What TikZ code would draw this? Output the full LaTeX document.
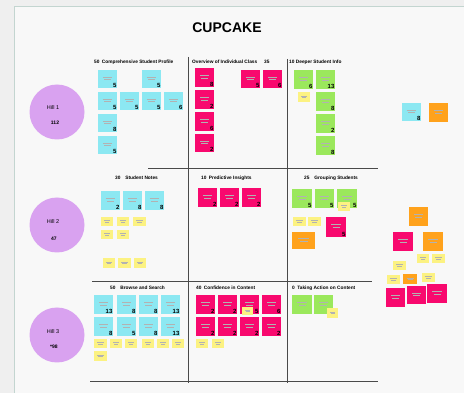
\documentclass[tikz,border=0pt]{standalone}
\usepackage{fontspec}
\setmainfont{Liberation Sans}
\usetikzlibrary{calc}

\definecolor{bgout}{HTML}{EFEFEF}
\definecolor{board}{HTML}{F8F8F8}
\definecolor{boardedge}{HTML}{C3D5D0}
\definecolor{cyannote}{HTML}{8CE8F2}
\definecolor{pinknote}{HTML}{F8096E}
\definecolor{greennote}{HTML}{9BE85C}
\definecolor{yellownote}{HTML}{FCF282}
\definecolor{orangenote}{HTML}{FFA21C}
\definecolor{hill}{HTML}{D9A2F0}
\definecolor{gridline}{HTML}{4A4A4A}

\tikzset{
  note/.style={anchor=north west, inner sep=0pt, draw=none},
  num/.style={anchor=south east, inner sep=0.8pt, font=\fontsize{6}{6}\selectfont\bfseries},
  scrib/.style={draw=black!30, line width=0.25pt},
  header/.style={anchor=west, inner sep=0pt, font=\fontsize{4.8}{5}\selectfont\bfseries},
  gridrule/.style={draw=gridline, line width=0.8pt},
  hillcircle/.style={circle, fill=hill, minimum size=55pt, inner sep=0pt},
  hilllabel/.style={inner sep=0pt, font=\fontsize{5.5}{6}\selectfont},
  hillcount/.style={inner sep=0pt, font=\fontsize{5}{6}\selectfont\bfseries},
}

% sticky note: name, colour, x, y (top left), width, height, count
\newcommand\stickynote[7]{%
  \node[note, fill=#2, minimum width=#5pt, minimum height=#6pt] (#1) at (#3,#4) {};
  \draw[scrib] ($(#1.center)+(-0.25*#5,-0.14*#6)$) -- ($(#1.center)+(0.25*#5,-0.14*#6)$);
  \draw[scrib] ($(#1.center)+(-0.18*#5,0.02*#6)$) -- ($(#1.center)+(0.18*#5,0.02*#6)$);
  \node[num] at (#1.south east) {#7};
}

\begin{document}
\begin{tikzpicture}[x=1pt,y=-1pt]
  \useasboundingbox (0,0) rectangle (464,393);
  \fill[bgout] (0,0) rectangle (464,393);
  \fill[board] (14,7) rectangle (470,400);
  \draw[boardedge, line width=1pt] (14,400) -- (14,7) -- (470,7);

  % title
  \node[font=\fontsize{14}{16}\selectfont\bfseries] (title) at (227,28) {CUPCAKE};

  % grid rules
  \draw[gridrule] (188,57) -- (188,383);
  \draw[gridrule] (287,59) -- (287,383);
  \draw[gridrule] (148,168) -- (378,168);
  \draw[gridrule] (92,281) -- (372,281);
  \draw[gridrule] (90,381) -- (378,381);

  % hills
  \node[hillcircle] (hill1) at (57,112) {};
  \node[hilllabel] (hill1name) at (53,108) {Hill 1};
  \node[hillcount] (hill1count) at (55,123) {112};
  \node[hillcircle] (hill2) at (57,225) {};
  \node[hilllabel] (hill2name) at (53,222) {Hill 2};
  \node[hillcount] (hill2count) at (54,239) {47};
  \node[hillcircle] (hill3) at (57,335) {};
  \node[hilllabel] (hill3name) at (53,332) {Hill 3};
  \node[hillcount] (hill3count) at (54,347) {*98};

  % section headers
  \node[header] (h1) at (94,62) {50\enspace Comprehensive Student Profile};
  \node[header] (h2) at (192,62) {Overview of Individual Class};
  \node[header] (h2n) at (264,62) {35};
  \node[header] (h3) at (289,62) {10 Deeper Student Info};
  \node[header] (h4) at (115,178) {30\quad Student Notes};
  \node[header] (h5) at (201,178) {10\enspace Predictive Insights};
  \node[header] (h6) at (304,178) {25\quad Grouping Students};
  \node[header] (h7) at (110,288) {50\quad Browse and Search};
  \node[header] (h8) at (196,288) {40\enspace Confidence in Content};
  \node[header] (h9) at (292,288) {0\enspace Taking Action on Content};

  % row 1
  \stickynote{c1a}{cyannote}{98}{70}{19}{18}{5}
  \stickynote{c1b}{cyannote}{142}{70}{19}{18}{5}
  \stickynote{c1c}{cyannote}{98}{92}{19}{18}{5}
  \stickynote{c1d}{cyannote}{120}{92}{19}{18}{5}
  \stickynote{c1e}{cyannote}{142}{92}{19}{18}{5}
  \stickynote{c1f}{cyannote}{164}{92}{19}{18}{6}
  \stickynote{c1g}{cyannote}{98}{114}{19}{18}{8}
  \stickynote{c1h}{cyannote}{98}{136}{19}{18}{5}

  \stickynote{p1a}{pinknote}{195}{68}{19}{19}{8}
  \stickynote{p1b}{pinknote}{195}{90}{19}{19}{2}
  \stickynote{p1c}{pinknote}{195}{112}{19}{19}{6}
  \stickynote{p1d}{pinknote}{195}{134}{19}{18}{2}
  \stickynote{p1e}{pinknote}{241}{70}{19}{18}{5}
  \stickynote{p1f}{pinknote}{263}{70}{19}{18}{6}

  \stickynote{g1a}{greennote}{294}{70}{19}{19}{6}
  \stickynote{g1b}{greennote}{316}{70}{19}{19}{13}
  \stickynote{y1a}{yellownote}{298}{92}{12}{10}{}
  \stickynote{g1c}{greennote}{316}{92}{19}{19}{8}
  \stickynote{g1d}{greennote}{316}{114}{19}{19}{2}
  \stickynote{g1e}{greennote}{316}{136}{19}{19}{8}

  \stickynote{c1x}{cyannote}{402}{103}{19}{18}{8}
  \stickynote{o1x}{orangenote}{429}{103}{19}{19}{}

  % row 2
  \stickynote{c2a}{cyannote}{101}{191}{19}{19}{2}
  \stickynote{c2b}{cyannote}{123}{191}{19}{19}{8}
  \stickynote{c2c}{cyannote}{145}{191}{19}{19}{8}
  \stickynote{y2a}{yellownote}{101}{217}{12}{9}{}
  \stickynote{y2b}{yellownote}{117}{217}{12}{9}{}
  \stickynote{y2c}{yellownote}{133}{217}{13}{9}{}
  \stickynote{y2d}{yellownote}{101}{230}{12}{9}{}
  \stickynote{y2e}{yellownote}{117}{230}{12}{9}{}
  \stickynote{y2f}{yellownote}{103}{258}{12}{10}{}
  \stickynote{y2g}{yellownote}{118}{258}{13}{10}{}
  \stickynote{y2h}{yellownote}{134}{258}{12}{10}{}

  \stickynote{p2a}{pinknote}{198}{188}{19}{19}{2}
  \stickynote{p2b}{pinknote}{220}{188}{19}{19}{2}
  \stickynote{p2c}{pinknote}{242}{188}{19}{19}{2}

  \stickynote{g2a}{greennote}{292}{189}{20}{19}{5}
  \stickynote{g2b}{greennote}{315}{189}{19}{19}{5}
  \stickynote{g2c}{greennote}{337}{189}{20}{19}{5}
  \stickynote{y2i}{yellownote}{338}{202}{12}{9}{}
  \stickynote{y2j}{yellownote}{293}{217}{13}{9}{}
  \stickynote{y2k}{yellownote}{308}{217}{13}{9}{}
  \stickynote{p2d}{pinknote}{326}{217}{20}{20}{5}
  \stickynote{o2a}{orangenote}{292}{232}{23}{17}{}

  \stickynote{o2b}{orangenote}{409}{207}{19}{19}{}
  \stickynote{p2e}{pinknote}{393}{232}{20}{19}{}
  \stickynote{o2c}{orangenote}{423}{232}{20}{19}{}
  \stickynote{y2l}{yellownote}{417}{254}{12}{9}{}
  \stickynote{y2m}{yellownote}{432}{254}{13}{9}{}
  \stickynote{y2n}{yellownote}{393}{261}{13}{9}{}
  \stickynote{y2o}{yellownote}{387}{275}{13}{9}{}
  \stickynote{o2d}{orangenote}{403}{274}{14}{10}{}
  \stickynote{y2p}{yellownote}{422}{273}{13}{9}{}
  \stickynote{p2f}{pinknote}{386}{288}{19}{19}{}
  \stickynote{p2g}{pinknote}{407}{286}{19}{18}{}
  \stickynote{p2h}{pinknote}{427}{284}{20}{19}{}

  % row 3
  \stickynote{c3a}{cyannote}{94}{295}{19}{19}{13}
  \stickynote{c3b}{cyannote}{117}{295}{19}{19}{8}
  \stickynote{c3c}{cyannote}{139}{295}{19}{19}{8}
  \stickynote{c3d}{cyannote}{161}{295}{19}{19}{13}
  \stickynote{c3e}{cyannote}{94}{317}{19}{19}{8}
  \stickynote{c3f}{cyannote}{117}{317}{19}{19}{5}
  \stickynote{c3g}{cyannote}{139}{317}{19}{19}{8}
  \stickynote{c3h}{cyannote}{161}{317}{19}{19}{13}
  \stickynote{y3a}{yellownote}{94}{339}{13}{9}{}
  \stickynote{y3b}{yellownote}{110}{339}{12}{9}{}
  \stickynote{y3c}{yellownote}{125}{339}{12}{9}{}
  \stickynote{y3d}{yellownote}{142}{339}{12}{9}{}
  \stickynote{y3e}{yellownote}{157}{339}{12}{9}{}
  \stickynote{y3f}{yellownote}{172}{339}{12}{9}{}
  \stickynote{y3g}{yellownote}{94}{351}{13}{10}{}

  \stickynote{p3a}{pinknote}{196}{295}{19}{19}{2}
  \stickynote{p3b}{pinknote}{218}{295}{19}{19}{2}
  \stickynote{p3c}{pinknote}{240}{295}{19}{19}{5}
  \stickynote{p3d}{pinknote}{262}{295}{19}{19}{6}
  \stickynote{y3h}{yellownote}{242}{307}{11}{8}{}
  \stickynote{p3e}{pinknote}{196}{317}{19}{19}{2}
  \stickynote{p3f}{pinknote}{218}{317}{19}{19}{2}
  \stickynote{p3g}{pinknote}{240}{317}{19}{19}{2}
  \stickynote{p3h}{pinknote}{262}{317}{19}{19}{2}
  \stickynote{y3i}{yellownote}{196}{339}{12}{9}{}
  \stickynote{y3j}{yellownote}{212}{339}{12}{9}{}

  \stickynote{g3a}{greennote}{292}{295}{20}{19}{}
  \stickynote{g3b}{greennote}{314}{295}{19}{19}{}
  \stickynote{y3k}{yellownote}{327}{308}{11}{10}{}
\end{tikzpicture}
\end{document}
